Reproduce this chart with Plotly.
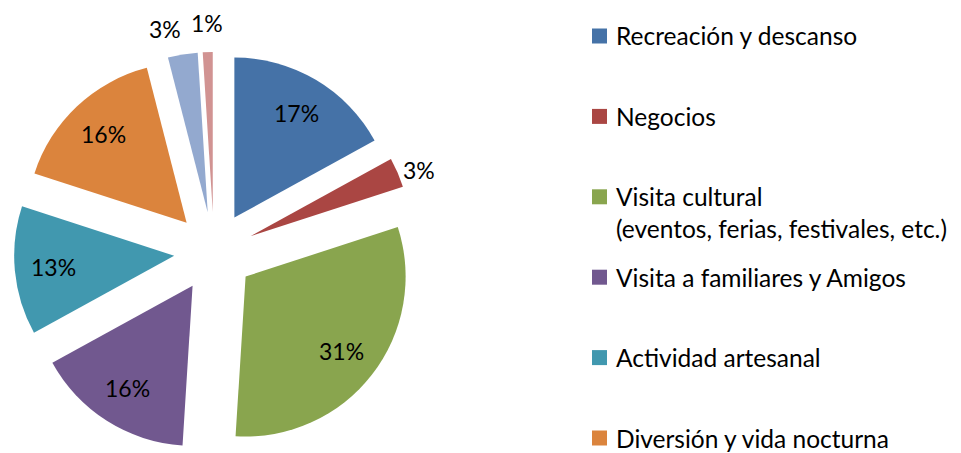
import math
import plotly.graph_objects as go

# ---- data ----
categories = [
    "Recreación y descanso",
    "Negocios",
    "Visita cultural<br>(eventos, ferias, festivales, etc.)",
    "Visita a familiares y Amigos",
    "Actividad artesanal",
    "Diversión y vida nocturna",
    "Estudios",
    "Otros",
]
values = [17, 3, 31, 16, 13, 16, 3, 1]
colors = ["#4572A7", "#AA4643", "#89A54E", "#71588F",
          "#4198AF", "#DB843D", "#93A9CF", "#D19392"]
label_inside = [True, False, True, True, True, True, False, False]

# ---- style / geometry (pixels in the 961x453 picture) ----
W, H = 961, 453
OX, OY = 8, 8            # page body margin of the rendered html
FONT = "Lato"
PIE_FS = 23
LEG_FS = 24.5
PULL = 0.25
PIE_BOX = (14, 52, 414, 452)   # x0, y0, x1, y1 of the pie domain in picture pixels
IN_DIST = 0.76           # inside label distance (fraction of radius from slice apex)
OUT_DIST = [None, 1.13, None, None, None, None, 1.18, 1.18]
OUT_NUDGE = [0, 2, 0, 0, 0, 0, -4, 0]   # degrees, to keep outside labels apart


def px(x):
    return (x - OX) / W


def py(y):
    return 1 - (y - OY) / H


fig = go.Figure()
fig.add_trace(go.Pie(
    labels=categories,
    values=values,
    sort=False,
    direction="clockwise",
    rotation=0,
    pull=[PULL] * len(values),
    marker=dict(colors=colors, line=dict(width=0)),
    textinfo="none",
    domain=dict(x=[px(PIE_BOX[0]), px(PIE_BOX[2])],
                y=[py(PIE_BOX[3]), py(PIE_BOX[1])]),
    showlegend=False,
    hoverinfo="label+percent",
))

# ---- percentage labels, placed from the slice angles ----
cx = (PIE_BOX[0] + PIE_BOX[2]) / 2
cy = (PIE_BOX[1] + PIE_BOX[3]) / 2
r = min(PIE_BOX[2] - PIE_BOX[0], PIE_BOX[3] - PIE_BOX[1]) / (2 * (1 + PULL))
total = sum(values)
annotations = []
cum = 0
for i, v in enumerate(values):
    mid = (cum + v / 2) / total * 2 * math.pi
    cum += v
    ax_, ay_ = cx + PULL * r * math.sin(mid), cy - PULL * r * math.cos(mid)
    if label_inside[i]:
        d, ang = IN_DIST * r, mid
    else:
        d, ang = OUT_DIST[i] * r, mid + math.radians(OUT_NUDGE[i])
    lx, ly = ax_ + d * math.sin(ang), ay_ - d * math.cos(ang)
    annotations.append(dict(
        text=f"{round(100 * v / total)}%", xref="paper", yref="paper",
        x=px(lx), y=py(ly), xanchor="center", yanchor="middle",
        showarrow=False, font=dict(family=FONT, size=PIE_FS, color="black"),
    ))

# ---- legend (reference shows only the first six entries; rest cropped) ----
legend_top = 36
legend_step = 80.4
shapes = []
for i, (lab, col) in enumerate(zip(categories, colors)):
    yc = legend_top + i * legend_step
    if yc > H - 8:
        break
    shapes.append(dict(
        type="rect", xref="paper", yref="paper",
        x0=px(592), x1=px(607),
        y0=py(yc + 7.5), y1=py(yc - 7.5),
        fillcolor=col, line=dict(width=0),
    ))
    for j, ln in enumerate(lab.split("<br>")):
        annotations.append(dict(
            text=ln, xref="paper", yref="paper",
            x=px(614), y=py(yc + j * 32),
            xanchor="left", yanchor="middle", showarrow=False,
            font=dict(family=FONT, size=LEG_FS, color="black"),
        ))

fig.update_layout(
    width=W, height=H,
    margin=dict(l=0, r=0, t=0, b=0, autoexpand=False),
    paper_bgcolor="white",
    plot_bgcolor="white",
    shapes=shapes,
    annotations=annotations,
)

fig.write_html("out.html")
